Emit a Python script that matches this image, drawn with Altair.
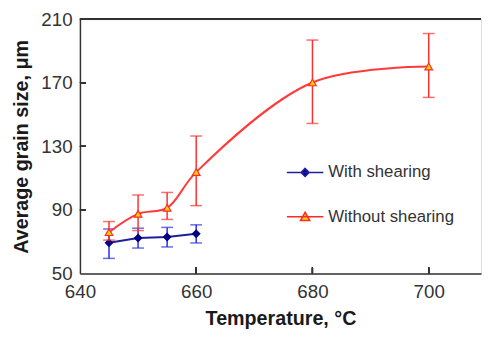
import altair as alt
import pandas as pd

# ---- data ----
names = ["With shearing", "Without shearing"]

temps_with = [645, 650, 655, 660]
size_with = [69.3, 72.3, 73.0, 75.0]
low_with = [59.5, 66.0, 66.7, 69.2]
high_with = [78.0, 78.5, 79.0, 80.6]

temps_without = [645, 650, 655, 660, 680, 700]
size_without = [76.0, 87.5, 91.3, 113.8, 170.2, 180.2]
low_without = [71.0, 77.0, 84.0, 92.7, 144.4, 160.8]
high_without = [82.7, 99.4, 101.0, 136.5, 196.9, 201.0]

x_ticks = [640, 660, 680, 700]
y_ticks = [50, 90, 130, 170, 210]
x_max = 709

line_colors = ["#1f1f9e", "#ff3a3a"]
bar_colors = ["#2b2be8", "#ff3030"]
fill_colors = ["#000080", "#ffd400"]
stroke_colors = ["#000080", "#ff2a2a"]
shapes = ["diamond", "triangle-up"]
legend_paths = [
    "M-1,0H1M0,-0.22L0.22,0L0,0.22L-0.22,0Z",
    "M-1,0H1M0,-0.25L0.25,0.2L-0.25,0.2Z",
]

rows = []
for t, v, lo, hi in zip(temps_with, size_with, low_with, high_with):
    rows.append({"series": names[0], "T": t, "v": v, "lo": lo, "hi": hi})
for t, v, lo, hi in zip(temps_without, size_without, low_without, high_without):
    rows.append({"series": names[1], "T": t, "v": v, "lo": lo, "hi": hi})
df = pd.DataFrame(rows)

W, H = 407, 258
FONT = "Liberation Sans"
AX = "#333333"
xs = alt.Scale(domain=[x_ticks[0], x_max], nice=False, zero=False)
ys = alt.Scale(domain=[y_ticks[0], y_ticks[-1]], nice=False, zero=False)

tick_px = 6
x_tick_len = tick_px * (y_ticks[-1] - y_ticks[0]) / H
y_tick_len = tick_px * (x_max - x_ticks[0]) / W

main_x = alt.Axis(values=x_ticks, ticks=False, grid=False, labelFlush=False,
                  domainColor=AX, domainWidth=1.5,
                  labelFont=FONT, labelFontSize=19, labelColor=AX, labelPadding=9,
                  title="Temperature, °C", titleFont=FONT, titleFontSize=20,
                  titleFontWeight="bold", titleColor="#1a1a1a", titlePadding=8)
main_y = alt.Axis(values=y_ticks, ticks=False, grid=False, labelFlush=False,
                  domainColor=AX, domainWidth=1.5,
                  labelFont=FONT, labelFontSize=19, labelColor=AX, labelPadding=8,
                  title="Average grain size, μm", titleFont=FONT, titleFontSize=20,
                  titleFontWeight="bold", titleColor="#1a1a1a", titlePadding=10)

base = alt.Chart(df)
layers = []

# frame: top line and inward ticks, positioned through the scales
layers.append(base.mark_rule(color=AX, strokeWidth=1.5).encode(
    y=alt.datum(y_ticks[-1], scale=ys, axis=main_y)))
for t in x_ticks[1:]:
    layers.append(base.mark_rule(color=AX, strokeWidth=1.2).encode(
        x=alt.datum(t, scale=xs, axis=main_x),
        y=alt.datum(y_ticks[0], scale=ys), y2=alt.datum(y_ticks[0] + x_tick_len)))
for t in y_ticks[1:-1]:
    layers.append(base.mark_rule(color=AX, strokeWidth=1.2).encode(
        y=alt.datum(t, scale=ys),
        x=alt.datum(x_ticks[0], scale=xs), x2=alt.datum(x_ticks[0] + y_tick_len)))

for i, name in enumerate(names):
    sub = base.transform_filter(alt.datum.series == name)
    line = sub.mark_line(color=line_colors[i], strokeWidth=2,
                         interpolate="catmull-rom" if i == 1 else "linear").encode(
        x=alt.X("T:Q", scale=xs), y=alt.Y("v:Q", scale=ys))
    rule = sub.mark_rule(color=bar_colors[i], strokeWidth=1.5).encode(
        x=alt.X("T:Q", scale=xs), y=alt.Y("lo:Q", scale=ys), y2="hi:Q")
    cap_lo = sub.mark_tick(color=bar_colors[i], orient="horizontal", size=12, thickness=1.5).encode(
        x=alt.X("T:Q", scale=xs), y=alt.Y("lo:Q", scale=ys))
    cap_hi = sub.mark_tick(color=bar_colors[i], orient="horizontal", size=12, thickness=1.5).encode(
        x=alt.X("T:Q", scale=xs), y=alt.Y("hi:Q", scale=ys))
    pts = sub.mark_point(shape=shapes[i], filled=True, fill=fill_colors[i],
                         stroke=stroke_colors[i], strokeWidth=1.2, opacity=1,
                         size=55 if i == 0 else 60).encode(
        x=alt.X("T:Q", scale=xs), y=alt.Y("v:Q", scale=ys))
    layers += [line, rule, cap_lo, cap_hi, pts]

leg = alt.Legend(orient="none", legendX=209, legendY=136, title=None, padding=0,
                 labelFont=FONT, labelFontSize=17, labelColor=AX, labelOffset=4,
                 symbolSize=1369, symbolStrokeWidth=1.6, rowPadding=17)
legend_layer = base.transform_filter("false").mark_point(filled=True, opacity=1).encode(
    x=alt.X("T:Q", scale=xs), y=alt.Y("v:Q", scale=ys),
    shape=alt.Shape("series:N", scale=alt.Scale(domain=names, range=legend_paths), legend=leg),
    fill=alt.Fill("series:N", scale=alt.Scale(domain=names, range=fill_colors), legend=leg),
    stroke=alt.Stroke("series:N", scale=alt.Scale(domain=names, range=[line_colors[0], stroke_colors[1]]), legend=leg),
)
layers.append(legend_layer)

chart = alt.layer(*layers).properties(
    width=W, height=H,
    padding={"left": 3, "top": 0, "right": 0, "bottom": 2},
).configure_view(stroke=None).configure(background="white")

chart.save("out.html", embed_options={"renderer": "svg", "actions": False})
